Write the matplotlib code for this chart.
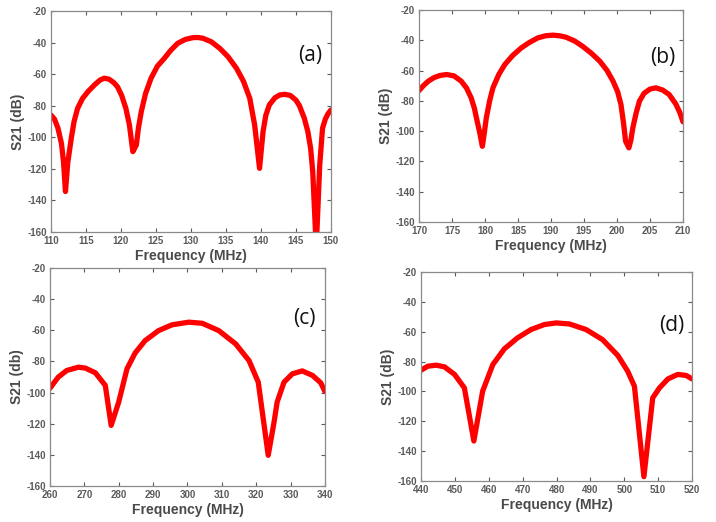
import matplotlib.pyplot as plt

plt.rcParams['axes.unicode_minus'] = False

# panel (a)
freq_a = [110.0, 110.5, 111.0, 111.5, 111.8, 112.07, 112.4, 112.9, 113.3, 113.8,
          114.5, 115.3, 116.3, 117.0, 117.6, 118.3, 119.0, 119.5, 120.1, 120.7,
          121.2, 121.7, 122.2, 122.5, 122.9, 123.5, 124.3, 125.2, 126.2, 127.1,
          128.1, 129.2, 130.3, 131.0, 131.7, 132.9, 134.1, 135.3, 136.5, 137.5,
          138.4, 139.1, 139.8, 140.3, 140.7, 141.2, 142.0, 142.7, 143.4, 144.2,
          145.0, 145.5, 146.2, 146.7, 147.1, 147.4, 147.9, 148.4, 148.8, 149.2,
          149.6, 150.0]
s21_a = [-85.9, -88.5, -94.3, -104.0, -116.0, -134.4, -116.0, -100.7, -90.0, -81.7,
         -75.5, -71.0, -66.5, -63.8, -62.6, -63.2, -65.5, -68.0, -73.5, -81.7,
         -92.0, -109.1, -104.9, -94.0, -83.8, -72.5, -62.6, -55.0, -50.0, -45.0,
         -40.5, -38.0, -36.9, -36.8, -37.3, -39.5, -43.6, -49.0, -56.3, -64.5,
         -75.3, -92.2, -119.7, -96.4, -86.0, -79.5, -75.0, -73.2, -72.8, -73.5,
         -76.5, -80.0, -88.0, -96.4, -107.0, -121.8, -170.0, -117.5, -94.3, -88.5,
         -85.0, -82.7]

# panel (b)
freq_b = [170.0, 170.7, 171.4, 172.3, 173.2, 174.2, 175.3, 176.4, 177.2, 177.9,
          178.4, 178.7, 179.2, 179.6, 179.9, 180.2, 180.7, 181.2, 182.1, 183.0,
          184.2, 185.5, 186.7, 188.0, 189.2, 190.3, 191.3, 192.3, 193.6, 194.8,
          196.1, 197.4, 198.5, 199.4, 200.1, 200.6, 201.0, 201.3, 201.8, 202.1,
          202.4, 202.9, 203.4, 204.1, 205.0, 205.9, 206.9, 207.9, 208.9, 209.5,
          210.0]
s21_b = [-73.2, -69.8, -67.0, -64.6, -63.2, -62.6, -63.5, -67.0, -71.5, -78.0,
         -85.0, -91.2, -101.0, -110.0, -101.0, -91.2, -80.0, -71.4, -62.5, -56.0,
         -50.0, -45.0, -41.5, -38.4, -37.0, -36.6, -37.0, -38.0, -40.5, -44.0,
         -48.5, -53.8, -60.0, -67.0, -74.0, -82.4, -95.0, -106.6, -111.0, -106.0,
         -97.8, -88.0, -80.2, -75.0, -72.2, -71.4, -72.8, -75.8, -82.0, -87.5,
         -93.8]

# panel (c)
freq_c = [260.0, 262.4, 264.9, 268.3, 270.3, 273.2, 276.1, 277.8, 280.0, 282.4,
          284.8, 287.7, 291.6, 295.5, 300.4, 304.3, 309.1, 314.0, 317.9, 320.6,
          323.5, 325.2, 326.1, 328.1, 330.5, 333.4, 336.4, 338.8, 340.0]
s21_c = [-97.2, -90.1, -85.8, -83.7, -84.3, -87.3, -95.4, -121.1, -106.1, -84.8,
         -74.5, -66.6, -60.2, -56.5, -54.8, -55.5, -60.2, -68.7, -79.4, -93.3,
         -140.3, -119.0, -106.1, -93.3, -88.0, -86.1, -89.0, -93.8, -99.3]

# panel (d)
freq_d = [440.0, 442.0, 444.4, 446.9, 449.9, 452.8, 455.6, 458.2, 461.2, 464.6,
          468.5, 472.5, 476.4, 479.9, 483.8, 488.7, 493.6, 498.1, 501.0, 503.0,
          505.8, 508.4, 510.4, 512.9, 515.8, 518.3, 520.0]
s21_d = [-85.8, -83.1, -82.4, -83.5, -88.6, -97.6, -133.2, -99.8, -82.0, -71.5,
         -64.1, -58.5, -55.2, -54.1, -54.8, -58.5, -65.3, -75.9, -86.4, -96.5,
         -157.1, -104.3, -97.6, -91.6, -88.6, -89.3, -91.6]

panels = [
    (freq_a, s21_a, (110, 150), 5, 'S21 (dB)', '(a)', [0.0712, 0.5556, 0.391, 0.4234], (0.925, 0.80)),
    (freq_b, s21_b, (170, 210), 5, 'S21 (dB)', '(b)', [0.5852, 0.5747, 0.3687, 0.4061], (0.924, 0.778)),
    (freq_c, s21_c, (260, 340), 10, 'S21 (db)', '(c)', [0.0698, 0.0690, 0.384, 0.4176], (0.927, 0.77)),
    (freq_d, s21_d, (440, 520), 10, 'S21 (dB)', '(d)', [0.588, 0.0785, 0.3785, 0.4004], (0.926, 0.746)),
]

fig = plt.figure(figsize=(7.16, 5.22), dpi=100)
grey = '#5a5a5a'

for f, s, xlim, step, ylab, tag, pos, tagpos in panels:
    ax = fig.add_axes(pos)
    ax.plot(f, s, color='#ff0000', lw=3.8, solid_joinstyle='round', solid_capstyle='round')
    ax.set_xlim(*xlim)
    ax.set_ylim(-160, -20)
    ax.set_xticks(range(xlim[0], xlim[1] + 1, step))
    ax.set_yticks(range(-160, -19, 20))
    ax.tick_params(direction='in', top=True, right=True, length=3, width=0.8,
                   colors=grey, labelsize=7, pad=3)
    for lab in ax.get_xticklabels() + ax.get_yticklabels():
        lab.set_fontweight('bold')
        lab.set_family('Liberation Sans')
    for sp in ax.spines.values():
        sp.set_color('#8a8a8a')
        sp.set_linewidth(0.9)
    ax.set_xlabel('Frequency (MHz)', fontsize=10, fontweight='bold', color='#4a4a4a',
                  family='Liberation Sans', labelpad=2)
    ax.set_ylabel(ylab, fontsize=10, fontweight='bold', color='#4a4a4a',
                  family='Liberation Sans', labelpad=2)
    ax.text(tagpos[0], tagpos[1], tag, transform=ax.transAxes, ha='center', va='center',
            fontsize=15, family='Open Sans', color='#111111')

fig.savefig('out.png', dpi=100)
